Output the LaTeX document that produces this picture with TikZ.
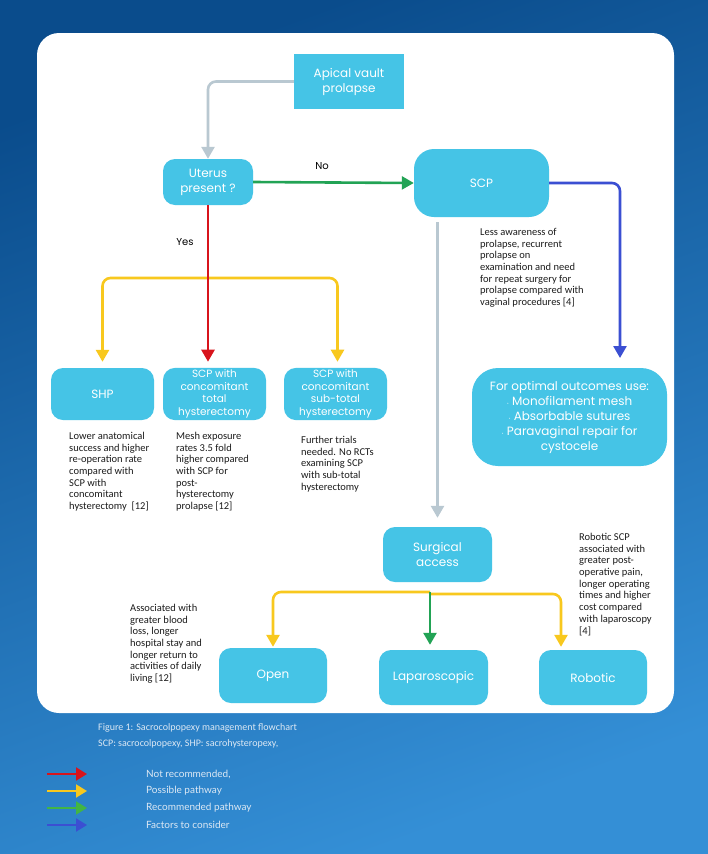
\documentclass[tikz,border=0pt]{standalone}
\usepackage{fontspec}
\setmainfont{Carlito}
\newfontfamily\popfont{Poppins}
\newfontfamily\latofont{Lato}
\usetikzlibrary{arrows.meta}
\definecolor{boxblue}{HTML}{45C4E6}
\definecolor{bgdark}{HTML}{0A4C8C}
\definecolor{bglight}{HTML}{348FD6}
\definecolor{linegray}{HTML}{B9C8D1}
\definecolor{linered}{HTML}{D8141C}
\definecolor{lineyellow}{HTML}{F8C81E}
\definecolor{linegreen}{HTML}{22A355}
\definecolor{lineblue}{HTML}{3B4FD2}
\definecolor{notegray}{HTML}{1C1C1C}
\definecolor{captext}{HTML}{DCE8F4}
\tikzset{
  flowbox/.style={fill=boxblue,text=white,rounded corners=12pt,align=center,inner sep=2pt,
    font=\popfont\fontsize{10.5}{12.5}\selectfont},
  bigbox/.style={flowbox,font=\popfont\fontsize{12}{15}\selectfont},
  notetext/.style={anchor=north west,align=left,inner sep=0pt,text=notegray,
    font=\fontsize{10.5}{11.7}\selectfont},
  link/.style={line width=2.6pt,rounded corners=8pt,-{Triangle[width=13pt,length=12pt]}},
  legarrow/.style={line width=2pt,-{Triangle[width=13pt,length=11pt]}},
  legtext/.style={anchor=west,inner sep=0pt,text=captext,font=\latofont\fontsize{10}{12}\selectfont},
}
\begin{document}
\begin{tikzpicture}[x=1pt,y=-1pt]
  \useasboundingbox (0,0) rectangle (708,854);
  % background and panel
  \shade[shading=axis,top color=bgdark,bottom color=bglight,shading angle=20] (0,0) rectangle (708,854);
  \fill[white,rounded corners=22pt] (37,33) rectangle (674,713);

  % boxes
  \node[bigbox,rounded corners=0pt,minimum width=110pt,minimum height=55pt] (apical) at (349,81.5) {Apical vault\\prolapse};
  \node[bigbox,minimum width=90pt,minimum height=46pt] (uterus) at (208,182) {Uterus\\present ?};
  \node[bigbox,rounded corners=20pt,minimum width=135pt,minimum height=68pt] (scp) at (481.5,183) {SCP};
  \node[bigbox,minimum width=103pt,minimum height=52pt] (shp) at (102.5,394) {SHP};
  \node[flowbox,minimum width=103pt,minimum height=52pt] (total) at (214.5,394) {SCP with\\concomitant\\total\\hysterectomy};
  \node[flowbox,minimum width=103pt,minimum height=52pt] (subtotal) at (335.5,394) {SCP with\\concomitant\\sub-total\\hysterectomy};
  \node[bigbox,rounded corners=26pt,minimum width=195pt,minimum height=98pt] (optimal) at (569.5,417)
    {For optimal outcomes use:\\{\color{white!60!boxblue}\tiny\textbullet}\ Monofilament mesh\\{\color{white!60!boxblue}\tiny\textbullet}\ Absorbable sutures\\{\color{white!60!boxblue}\tiny\textbullet}\ Paravaginal repair for\\cystocele};
  \node[bigbox,minimum width=109pt,minimum height=55pt] (surgical) at (437.5,554.5) {Surgical\\access};
  \node[bigbox,minimum width=108pt,minimum height=55pt] (open) at (273,675.5) {Open};
  \node[bigbox,minimum width=109pt,minimum height=55pt] (lap) at (433.5,677.5) {Laparoscopic};
  \node[bigbox,minimum width=108pt,minimum height=55pt] (robotic) at (593,677.5) {Robotic};

  % connectors
  \coordinate (yesfork) at (208,278);
  \coordinate (accfork) at (430,592);
  \coordinate (blueend) at (620,358);
  \draw[link,linegray] (apical.west) -| (uterus.north);
  \draw[link,linegreen,rounded corners=0pt] (uterus.east) -- (scp.west);
  \node[font=\popfont\fontsize{10}{12}\selectfont] (nolab) at (322,166) {No};
  \draw[link,lineblue] (scp.east) -| (blueend);
  \draw[link,linegray,shorten <=5pt,shorten >=9pt] (surgical.north |- scp.south) -- (surgical.north);
  \draw[link,lineyellow,shorten >=6pt] (yesfork) -| (shp.north);
  \draw[link,lineyellow,shorten >=6pt] (yesfork) -| ([xshift=2pt]subtotal.north);
  \draw[link,linered,shorten >=6pt] (uterus.south) -- (uterus.south |- total.north);
  \node[font=\popfont\fontsize{10}{12}\selectfont] (yeslab) at (185,242) {Yes};
  \draw[link,lineyellow,shorten >=1pt] (accfork) -| (open.north);
  \draw[link,lineyellow,shorten >=3pt] ([yshift=-2pt]accfork) -| ([xshift=-32pt]robotic.north);
  \draw[link,linegreen,shorten >=5pt] (accfork) -- (accfork |- lap.north);

  % notes
  \node[notetext] (shpnote) at (69,432) {Lower anatomical\\success and higher\\re-operation rate\\compared with\\SCP with\\concomitant\\hysterectomy~~[12]};
  \node[notetext] (totalnote) at (176,432) {Mesh exposure\\rates 3.5 fold\\higher compared\\with SCP for\\post-\\hysterectomy\\prolapse [12]};
  \node[notetext] (subnote) at (301,436) {Further trials\\needed. No RCTs\\examining SCP\\with sub-total\\hysterectomy};
  \node[notetext] (scpnote) at (480,228) {Less awareness of\\prolapse, recurrent\\prolapse on\\examination and need\\for repeat surgery for\\prolapse compared with\\vaginal procedures [4]};
  \node[notetext] (opennote) at (130,604) {Associated with\\greater blood\\loss, longer\\hospital stay and\\longer return to\\activities of daily\\living [12]};
  \node[notetext] (robnote) at (579,533) {Robotic SCP\\associated with\\greater post-\\operative pain,\\longer operating\\times and higher\\cost compared\\with laparoscopy\\{[4]}};

  % caption and legend
  \node[anchor=west,inner sep=0pt,text=captext,font=\fontsize{10}{12}\selectfont] (caption) at (98,728) {Figure 1: Sacrocolpopexy management flowchart};
  \node[anchor=west,inner sep=0pt,text=captext,font=\fontsize{10}{12}\selectfont] (abbrev) at (98,744) {SCP: sacrocolpopexy, SHP: sacrohysteropexy,};
  \node[legtext] (lred) at (146,774) {Not recommended,};
  \node[legtext] (lyellow) at (146,791) {Possible pathway};
  \node[legtext] (lgreen) at (146,808) {Recommended pathway};
  \node[legtext] (lblue) at (146,825) {Factors to consider};
  \draw[legarrow,linered] ([xshift=-99pt]lred.west) -- ([xshift=-59pt]lred.west);
  \draw[legarrow,lineyellow] ([xshift=-99pt]lyellow.west) -- ([xshift=-59pt]lyellow.west);
  \draw[legarrow,linegreen!80!lime] ([xshift=-99pt]lgreen.west) -- ([xshift=-59pt]lgreen.west);
  \draw[legarrow,lineblue] ([xshift=-99pt]lblue.west) -- ([xshift=-59pt]lblue.west);
\end{tikzpicture}
\end{document}
